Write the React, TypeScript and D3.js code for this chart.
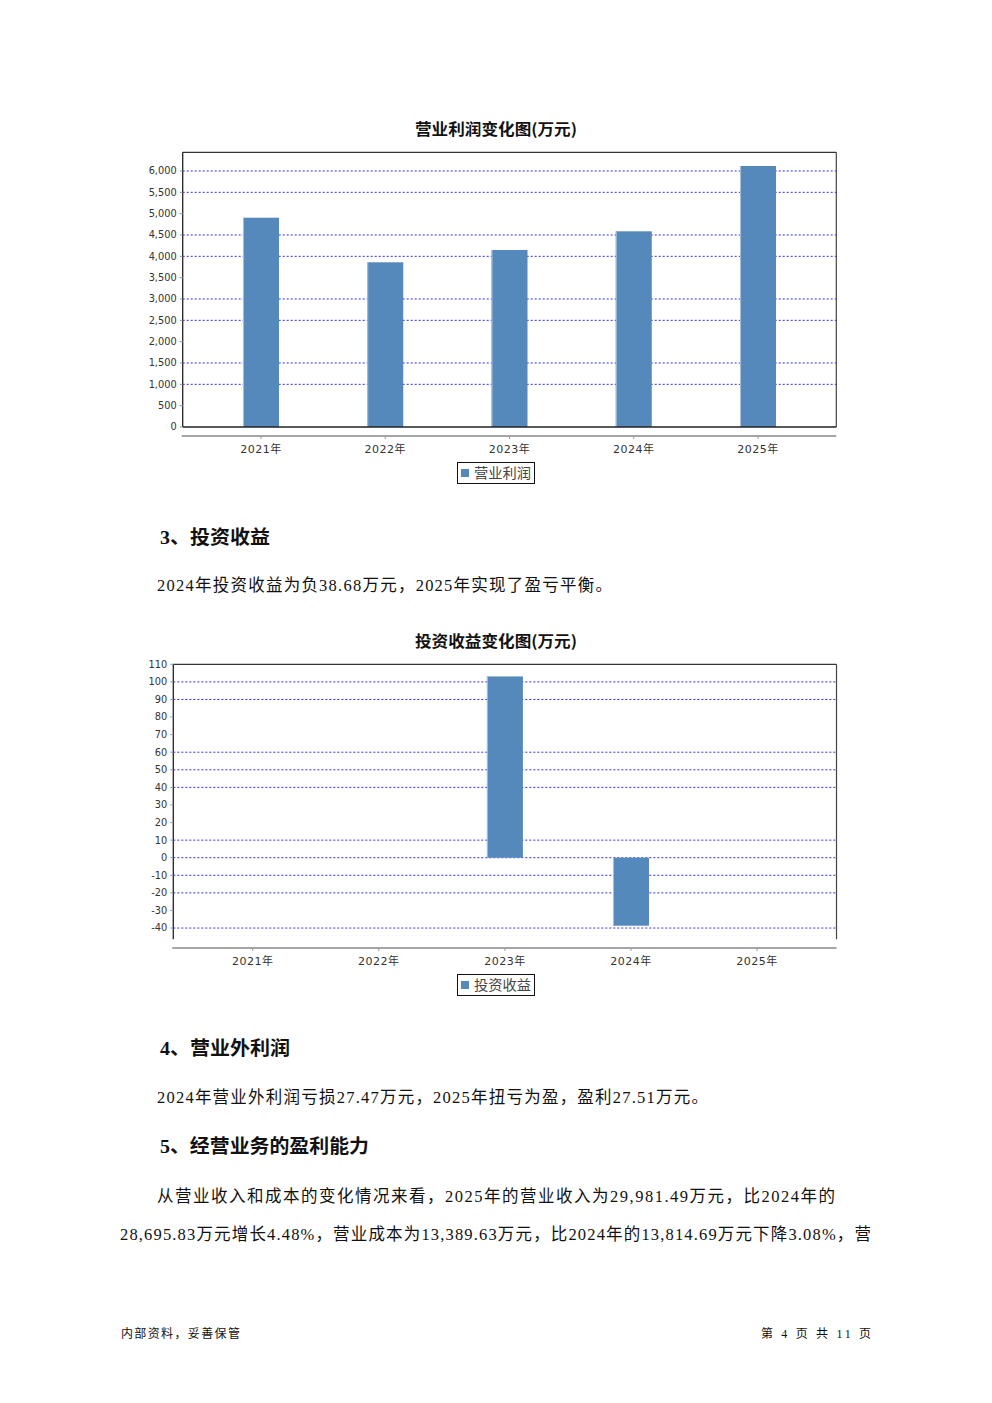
import React from "react";
import * as d3 from "d3";

const years = ["2021年", "2022年", "2023年", "2024年", "2025年"];
const operatingProfit = [4905, 3860, 4148, 4586, 6117];
const investmentIncome = [0, 0, 103.1, -38.68, 0];
const ticks1 = [0, 500, 1000, 1500, 2000, 2500, 3000, 3500, 4000, 4500, 5000, 5500, 6000];
const ticks2 = [-40, -30, -20, -10, 0, 10, 20, 30, 40, 50, 60, 70, 80, 90, 100, 110];
// gridlines as they appear in the reference picture
const grid1 = [1000, 1500, 2500, 3000, 4000, 4500, 5500, 6000];
const grid2 = [-40, -20, -10, 0, 10, 40, 50, 60, 90, 100];
const title1 = "营业利润变化图(万元)";
const title2 = "投资收益变化图(万元)";
const legend1 = "营业利润";
const legend2 = "投资收益";

const BAR = "#5588bb";
const GRID = "#2f2ff0";
const sans = "'DejaVu Sans', 'Noto Sans CJK SC', sans-serif";
const cjk = "'Noto Sans CJK SC', sans-serif";
const serif = "'Liberation Serif', 'Noto Sans CJK SC', serif";

type ChartProps = {
  title: string;
  titleY: number;
  values: number[];
  ticks: number[];
  grid: number[];
  domain: [number, number];
  left: number;
  right: number;
  top: number;
  bottom: number;
  xAxisY: number;
  legend: string;
  legendY: number;
  drawBottomBorder: boolean;
};

function BarChart(p: ChartProps) {
  const x = d3.scalePoint<string>().domain(years).range([p.left, p.right]).padding(0.63);
  const y = d3.scaleLinear().domain(p.domain).range([p.bottom, p.top]);
  const f = d3.format(",");
  const fmt = (v: number) => f(v).replace("−", "-");
  const bw = 36;
  return (
    <g>
      <text x={496} y={p.titleY} textAnchor="middle" fontFamily={cjk} fontWeight="bold" fontSize={15.5} fill="#111" textLength={162} lengthAdjust="spacingAndGlyphs">
        {p.title}
      </text>
      {p.grid.map((v) => (
        <line key={"g" + v} x1={p.left} x2={p.right} y1={y(v)} y2={y(v)} stroke={GRID} strokeWidth={1} strokeDasharray="2,2" />
      ))}
      {p.values.map((v, i) => {
        const x0 = (x(years[i]) as number) - bw / 2;
        const y0 = Math.min(y(v), y(0));
        const h = Math.abs(y(v) - y(0));
        if (h < 0.5) return null;
        return (
          <g key={"b" + i}>
            <rect x={x0} y={y0} width={bw} height={h} fill={BAR} />
            <line x1={x0 + 0.5} x2={x0 + 0.5} y1={y0} y2={y0 + h} stroke="#a8c2dc" strokeWidth={1} />
          </g>
        );
      })}
      {/* plot border */}
      <line x1={p.left} x2={p.right} y1={p.top} y2={p.top} stroke="#333" strokeWidth={1.2} />
      <line x1={p.right} x2={p.right} y1={p.top} y2={p.bottom} stroke="#444" strokeWidth={1.2} />
      <line x1={p.left} x2={p.left} y1={p.top} y2={p.bottom} stroke="#222" strokeWidth={1.3} />
      {p.drawBottomBorder && <line x1={p.left} x2={p.right} y1={p.bottom} y2={p.bottom} stroke="#222" strokeWidth={1.3} />}
      {/* y ticks */}
      {p.ticks.map((v) => (
        <g key={"t" + v}>
          <line x1={p.left - 3} x2={p.left} y1={y(v)} y2={y(v)} stroke="#999" />
          <text x={p.left - 6} y={y(v)} dy="0.35em" textAnchor="end" fontFamily={sans} fontSize={9.8} fill="#333">
            {fmt(v)}
          </text>
        </g>
      ))}
      {/* x axis */}
      <line x1={p.left - 1} x2={p.right} y1={p.xAxisY} y2={p.xAxisY} stroke="#888" strokeWidth={1.3} />
      {years.map((c) => (
        <g key={"x" + c}>
          <line x1={x(c)} x2={x(c)} y1={p.xAxisY} y2={p.xAxisY + 3} stroke="#999" />
          <text x={x(c)} y={p.xAxisY + 17} textAnchor="middle" fontFamily={sans} fontSize={11} fill="#333" letterSpacing="0.5">
            {c}
          </text>
        </g>
      ))}
      {/* legend */}
      <rect x={457.5} y={p.legendY + 0.5} width={77} height={21} fill="#fff" stroke="#111" strokeWidth={1} />
      <rect x={461} y={p.legendY + 7} width={8} height={8} fill={BAR} />
      <text x={474} y={p.legendY + 16} fontFamily={cjk} fontSize={14} fill="#444" textLength={57} lengthAdjust="spacingAndGlyphs">
        {p.legend}
      </text>
    </g>
  );
}

export default function App() {
  return (
    <svg width={992} height={1403} style={{ position: "absolute", left: 0, top: 0, background: "#fff" }}>
      <rect width={992} height={1403} fill="#fff" />
      <BarChart
        title={title1}
        titleY={135}
        values={operatingProfit}
        ticks={ticks1}
        grid={grid1}
        domain={[0, 6438]}
        left={182.7}
        right={836.3}
        top={152.3}
        bottom={427}
        xAxisY={436}
        legend={legend1}
        legendY={462}
        drawBottomBorder={true}
      />
      <BarChart
        title={title2}
        titleY={647}
        values={investmentIncome}
        ticks={ticks2}
        grid={grid2}
        domain={[-46.4, 110]}
        left={173.3}
        right={836.5}
        top={664.3}
        bottom={939.3}
        xAxisY={948}
        legend={legend2}
        legendY={974}
        drawBottomBorder={false}
      />

      {/* section 3 */}
      <text x={160} y={544} fontFamily={serif} fontWeight="bold" fontSize={19} fill="#111" textLength={110} lengthAdjust="spacingAndGlyphs">3、投资收益</text>
      <text x={157} y={591} fontFamily={serif} fontSize={16.5} fill="#111" textLength={455} lengthAdjust="spacing">
        2024年投资收益为负38.68万元，2025年实现了盈亏平衡。
      </text>

      {/* section 4 */}
      <text x={160} y={1055} fontFamily={serif} fontWeight="bold" fontSize={19} fill="#111" textLength={130} lengthAdjust="spacingAndGlyphs">4、营业外利润</text>
      <text x={157} y={1103} fontFamily={serif} fontSize={16.5} fill="#111" textLength={551} lengthAdjust="spacing">
        2024年营业外利润亏损27.47万元，2025年扭亏为盈，盈利27.51万元。
      </text>

      {/* section 5 */}
      <text x={160} y={1153} fontFamily={serif} fontWeight="bold" fontSize={19} fill="#111" textLength={209} lengthAdjust="spacingAndGlyphs">5、经营业务的盈利能力</text>
      <text x={157} y={1202} fontFamily={serif} fontSize={16.5} fill="#111" textLength={678} lengthAdjust="spacing">
        从营业收入和成本的变化情况来看，2025年的营业收入为29,981.49万元，比2024年的
      </text>
      <text x={120} y={1240} fontFamily={serif} fontSize={16.5} fill="#111" textLength={751} lengthAdjust="spacing">
        28,695.83万元增长4.48%，营业成本为13,389.63万元，比2024年的13,814.69万元下降3.08%，营
      </text>

      {/* footer */}
      <text x={121} y={1338} fontFamily={cjk} fontSize={12} fill="#111" textLength={119} lengthAdjust="spacing">
        内部资料，妥善保管
      </text>
      <text x={761} y={1338} fontFamily={serif} fontSize={12} fill="#111" textLength={110} lengthAdjust="spacing">
        第 4 页  共 11 页
      </text>
    </svg>
  );
}
